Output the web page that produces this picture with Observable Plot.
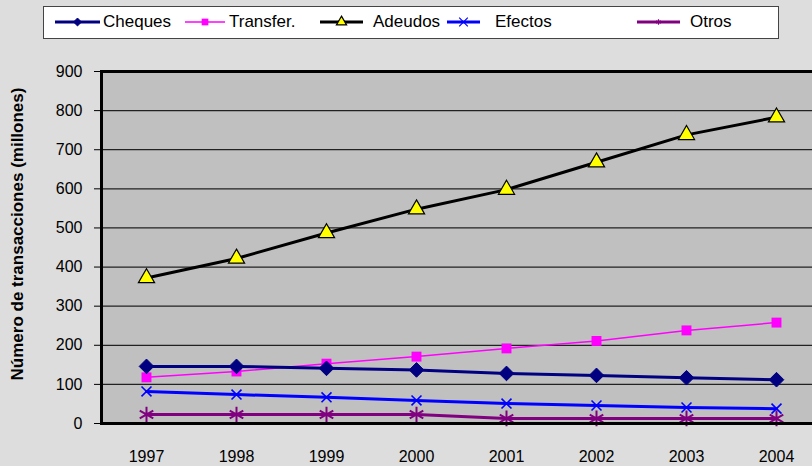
<!DOCTYPE html>
<html>
<head>
<meta charset="utf-8">
<script src="https://cdn.jsdelivr.net/npm/d3@7"></script>
<script src="https://cdn.jsdelivr.net/npm/@observablehq/plot@0.6"></script>
<style>
  html, body { margin: 0; padding: 0; background: #dddddd; width: 812px; height: 466px; overflow: hidden; font-family: "Liberation Sans", Arial, sans-serif; }
  #legend { position: relative; height: 52px; width: 812px; }
  #legend .box { position: absolute; left: 43px; top: 6px; width: 734px; height: 31px; background: #fff; border: 1.5px solid #444; }
  #legend .sw { position: absolute; top: 12px; display: block; }
  #legend .lt { position: absolute; top: 12px; font-size: 17px; line-height: 20px; color: #000; white-space: nowrap; }
  #chart { position: relative; }
  #ylab { position: absolute; left: 18px; top: 234px; transform: translate(-50%, -50%) rotate(-90deg); white-space: nowrap; font-weight: bold; font-size: 17px; }
</style>
</head>
<body>
<div id="legend"><div class="box"></div></div>
<div id="chart"></div>
<div id="ylab">Número de transacciones (millones)</div>
<script>
const years = ["1997","1998","1999","2000","2001","2002","2003","2004"];
const cheques   = [146, 146, 141, 137, 128, 123, 117, 112];
const transfer  = [118, 133, 153, 171, 192, 211, 238, 258];
const adeudos   = [372, 422, 487, 548, 598, 668, 738, 783];
const efectos   = [82, 74, 67, 59, 51, 46, 41, 38];
const otros     = [23, 23, 23, 23, 13, 13, 13, 13];
const yTicks    = [0, 100, 200, 300, 400, 500, 600, 700, 800, 900];

const seriesNames = ["Cheques", "Transfer.", "Adeudos", "Efectos", "Otros"];
const seriesVals = [cheques, transfer, adeudos, efectos, otros];
const styles = {
  "Cheques":   {color: "#000080", width: 3,   symbol: "diamond2", fill: "#000080", stroke: "#000080", r: 6.6, sw: 1},
  "Transfer.": {color: "#ff00ff", width: 1.5, symbol: "square",   fill: "#ff00ff", stroke: "none",    r: 5.6, sw: 0},
  "Adeudos":   {color: "#000000", width: 3,   symbol: "triangle", fill: "#ffff00", stroke: "#000000", r: 6.0, sw: 1.2},
  "Efectos":   {color: "#0000ff", width: 3,   symbol: "times",    fill: "none",    stroke: "#0000ff", r: 4.6, sw: 1.6},
  "Otros":     {color: "#800080", width: 3,   symbol: "asterisk", fill: "none",    stroke: "#800080", r: 7.4, sw: 2}
};
const data = [];
seriesNames.forEach((s, i) => years.forEach((y, j) => data.push({series: s, year: y, value: seriesVals[i][j]})));

const drawOrder = ["Otros", "Efectos", "Transfer.", "Cheques", "Adeudos"];
const marks = [
  Plot.frame({fill: "#c0c0c0", stroke: "none"}),
  Plot.ruleY(yTicks.filter(d => d > 0 && d < 900), {stroke: "#222", strokeWidth: 1.3}),
  Plot.axisY({ticks: yTicks, tickSize: 6, tickPadding: 12, fontSize: 16, label: null, stroke: "#000"}),
  Plot.axisX({tickSize: 0, tickPadding: 27, fontSize: 16, label: null})
];
for (const s of drawOrder) {
  const st = styles[s];
  const d = data.filter(r => r.series === s);
  marks.push(Plot.line(d, {x: "year", y: "value", stroke: st.color, strokeWidth: st.width}));
}
for (const s of drawOrder) {
  const st = styles[s];
  const d = data.filter(r => r.series === s);
  marks.push(Plot.dot(d, {x: "year", y: "value", symbol: () => st.symbol, r: st.r, fill: st.fill, stroke: st.stroke, strokeWidth: st.sw}));
}
marks.push(Plot.ruleY([900], {stroke: "#000", strokeWidth: 3}));
marks.push(Plot.ruleY([0], {stroke: "#000", strokeWidth: 3}));
marks.push(Plot.ruleX([years[0]], {y1: 0, y2: 900, stroke: "#000", strokeWidth: 3, dx: -45}));

const chart = Plot.plot({
  width: 812,
  height: 414,
  marginLeft: 100,
  marginRight: -9,
  marginTop: 19,
  marginBottom: 43,
  style: {background: "transparent", fontFamily: "Liberation Sans, Arial, sans-serif", color: "#000", overflow: "visible"},
  x: {type: "point", domain: years, padding: 0.5},
  y: {domain: [0, 900]},
  symbol: {type: "identity"},
  marks
});
document.getElementById("chart").appendChild(chart);

// Legend
const legendItems = [
  {name: "Cheques",   x: 55,  lineW: 45, tx: 103, sz: 40},
  {name: "Transfer.", x: 185, lineW: 40, tx: 229, sz: 45},
  {name: "Adeudos",   x: 320, lineW: 43, tx: 373, sz: 45},
  {name: "Efectos",   x: 447, lineW: 33, tx: 495, sz: 50},
  {name: "Otros",     x: 637, lineW: 43, tx: 690, sz: 20}
];
const legend = document.getElementById("legend");
const symMap = {diamond2: d3.symbolDiamond2, square: d3.symbolSquare, triangle: d3.symbolTriangle, times: d3.symbolTimes, asterisk: d3.symbolAsterisk};
for (const it of legendItems) {
  const st = styles[it.name];
  const svg = d3.create("svg").attr("class", "sw").attr("width", it.lineW).attr("height", 20)
    .style("left", it.x + "px");
  svg.append("line").attr("x1", 0).attr("x2", it.lineW).attr("y1", 10).attr("y2", 10)
    .attr("stroke", st.color).attr("stroke-width", st.width);
  svg.append("path").attr("d", d3.symbol(symMap[st.symbol], it.sz)())
    .attr("transform", `translate(${it.lineW / 2},10)`)
    .attr("fill", st.fill).attr("stroke", st.stroke).attr("stroke-width", Math.min(st.sw, 1.2));
  legend.appendChild(svg.node());
  const t = document.createElement("span");
  t.className = "lt";
  t.textContent = it.name;
  t.style.left = it.tx + "px";
  legend.appendChild(t);
}
</script>
</body>
</html>
